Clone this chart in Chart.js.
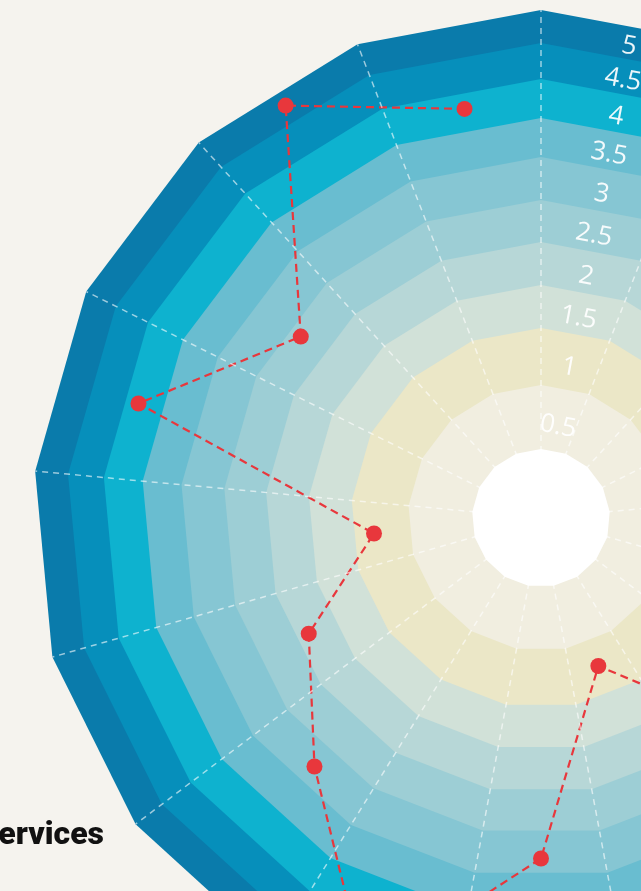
<!DOCTYPE html>
<html>
<head>
<meta charset="utf-8">
<script src="https://cdn.jsdelivr.net/npm/chart.js@4.4.1/dist/chart.umd.min.js"></script>
<style>
  html, body { margin: 0; padding: 0; background: #f5f3ee; }
  body { position: relative; width: 641px; height: 891px; overflow: hidden; }
  #wrap { position: absolute; left: 0; top: -23px; width: 1082px; height: 1082px; }
  #catLabel {
    position: absolute; left: -200px; width: 304px; top: 818px;
    text-align: right; font: 900 32px Roboto, sans-serif; line-height: 31px; color: #111;
  }
</style>
</head>
<body>
<div id="wrap"><canvas id="chart" width="1082" height="1082"></canvas></div>
<div id="catLabel"></div>
<script>
// 17 sectors, clockwise from the top; only one name shows in this crop
const categories = ['', '', '', '', '', '', '', '', '', '', 'Services', '', '', '', '', '', ''];

// Score per sector (null = off the visible part of the picture)
const scores = [null, null, null, null, null, null, 2.0, 0.75, 2.83, 4.82, 2.78, 1.86, 0.83, 3.83, 2.36, 4.78, 3.8];

// One tick label per coloured ring, inner to outer
const tickLabels = ['0.5', '1', '1.5', '2', '2.5', '3', '3.5', '4', '4.5', '5'];

// Ring colours, inner to outer
const ringColors = ['#f1eee0', '#ebe7c7', '#d1e1d8', '#b7d7d7', '#9dced5', '#86c6d3', '#69bdd0', '#0eb2cf', '#068fbb', '#0a7bab'];

// Radius (px) of each ring edge at a polygon corner; first one is the white hole
const RING_EDGE_PX = [69, 133, 190, 233, 276, 318, 361, 400, 439, 475, 508];
const ringValues = [0].concat(tickLabels.map(Number));

// radial scale whose rings are not evenly spaced
class RingScale extends Chart.RadialLinearScale {
  static id = 'ringRadial';
  getDistanceFromCenterForValue(value) {
    if (value === null || value === undefined || isNaN(value)) return NaN;
    let i = 1;
    while (i < ringValues.length - 1 && value > ringValues[i]) i++;
    const t = (value - ringValues[i - 1]) / (ringValues[i] - ringValues[i - 1]);
    const d = RING_EDGE_PX[i - 1] + t * (RING_EDGE_PX[i] - RING_EDGE_PX[i - 1]);
    // the data scale sits mid-sector, where the polygon edge is a bit closer in
    return this.options.startAngle ? d * Math.cos(Math.PI / categories.length) : d;
  }
}
Chart.register(RingScale);

document.getElementById('catLabel').textContent = categories[10];

const red = '#e8373c';

const ringDatasets = tickLabels.map((t, i) => ({
  rAxisID: 'r',
  data: categories.map(() => Number(t)),
  backgroundColor: ringColors[i],
  borderColor: 'rgba(0,0,0,0)',
  borderWidth: 0,
  pointRadius: 0,
  fill: 'shape',
}));

const datasets = [
  {
    rAxisID: 'rData',
    data: scores,
    borderColor: red,
    borderWidth: 2.2,
    borderDash: [8, 5],
    pointRadius: 8,
    pointBackgroundColor: red,
    pointBorderWidth: 0,
    fill: false,
    spanGaps: false,
  },
  {
    // white hole in the middle
    rAxisID: 'r',
    data: categories.map(() => 0),
    backgroundColor: '#ffffff',
    borderColor: 'rgba(0,0,0,0)',
    borderWidth: 0,
    pointRadius: 0,
    fill: 'shape',
  },
  ...ringDatasets,
];

new Chart(document.getElementById('chart'), {
  type: 'radar',
  data: { labels: categories, datasets },
  options: {
    responsive: false,
    animation: false,
    devicePixelRatio: 1,
    layout: { padding: 0 },
    plugins: { legend: { display: false }, tooltip: { enabled: false } },
    elements: { line: { tension: 0 } },
    scales: {
      r: {
        type: 'ringRadial',
        axis: 'r',
        min: 0,
        max: 5,
        startAngle: 0,
        grid: { display: false, z: 1 },
        angleLines: { display: true, color: 'rgba(255,255,255,0.6)', lineWidth: 1.5, borderDash: [6, 5] },
        pointLabels: { display: false },
        ticks: { display: false },
      },
      rData: {
        type: 'ringRadial',
        axis: 'r',
        min: 0,
        max: 5,
        startAngle: 180 / categories.length,
        grid: { display: false },
        angleLines: { display: false },
        pointLabels: { display: false },
        // one label in the middle of each ring
        afterBuildTicks: scale => {
          scale.ticks = [{ value: 0 }].concat(tickLabels.map(t => ({ value: Number(t) - 0.3 })));
        },
        ticks: {
          display: true,
          z: 1,
          showLabelBackdrop: false,
          color: 'rgba(255,255,255,0.92)',
          font: { family: 'Open Sans', size: 26 },
          callback: (v, i) => (i === 0 ? '' : tickLabels[i - 1]),
        },
      },
    },
  },
});
</script>
</body>
</html>
